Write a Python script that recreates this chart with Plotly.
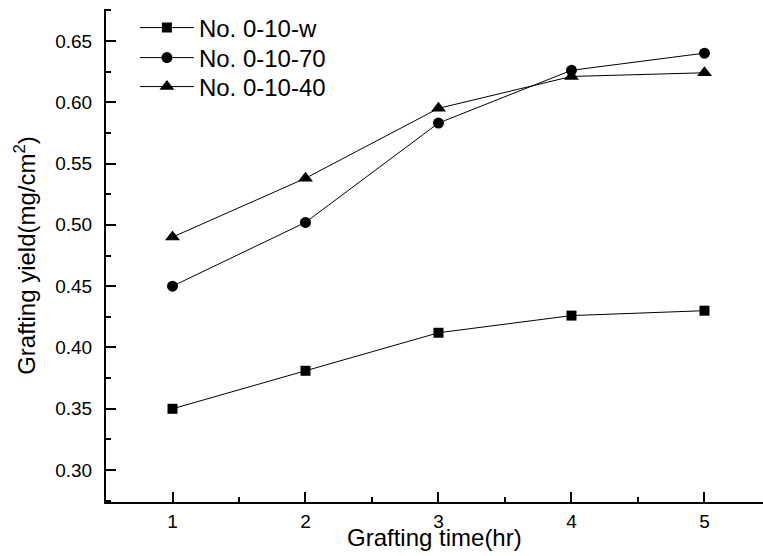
import plotly.graph_objects as go

time_hr = [1, 2, 3, 4, 5]
yield_w = [0.350, 0.381, 0.412, 0.426, 0.430]
yield_70 = [0.450, 0.502, 0.583, 0.626, 0.640]
yield_40 = [0.490, 0.538, 0.595, 0.621, 0.624]
names = ["No. 0-10-w", "No. 0-10-70", "No. 0-10-40"]
symbols = ["square", "circle", "triangle-up"]
sizes = [10, 11, 13]
legend_ids = ["legend", "legend2", "legend3"]
legend_y = [0.9615, 0.9006, 0.8418]

fig = go.Figure()
for ys, nm, sym, sz, lg in zip([yield_w, yield_70, yield_40], names, symbols, sizes, legend_ids):
    fig.add_trace(go.Scatter(
        x=time_hr, y=ys, name=nm, mode="lines+markers", legend=lg,
        line=dict(color="black", width=1),
        marker=dict(symbol=sym, size=sz, color="black"),
    ))

axis_common = dict(
    showline=True, linecolor="black", linewidth=2, mirror=False,
    ticks="inside", ticklen=10, tickwidth=2, tickcolor="black",
    showgrid=False, zeroline=False, automargin=False,
    tickfont=dict(family="Liberation Sans, Arial", size=19, color="black"),
)

legend_layout = {}
for lg, ly in zip(legend_ids, legend_y):
    legend_layout[lg] = dict(
        x=0.044, y=ly, xanchor="left", yanchor="middle",
        bgcolor="rgba(0,0,0,0)", font=dict(size=24),
        itemwidth=54,
    )

fig.update_layout(
    width=763, height=556,
    margin=dict(l=106, r=0, t=9, b=54),
    plot_bgcolor="white", paper_bgcolor="white",
    font=dict(family="Liberation Sans, Arial", color="black"),
    xaxis=dict(
        range=[0.5, 5.44], tickvals=[1, 2, 3, 4, 5],
        minor=dict(ticks="inside", ticklen=5, tickwidth=2, tickcolor="black", dtick=0.5, tick0=0.5),
        ticklabelstandoff=1,
        **axis_common,
    ),
    yaxis=dict(
        range=[0.274, 0.676], tickvals=[0.30, 0.35, 0.40, 0.45, 0.50, 0.55, 0.60, 0.65],
        tickformat=".2f",
        minor=dict(ticks="inside", ticklen=5, tickwidth=2, tickcolor="black", dtick=0.025, tick0=0.275),
        title=dict(text="Grafting yield(mg/cm<sup>2</sup>)", font=dict(size=24), standoff=13),
        ticklabelstandoff=8,
        **axis_common,
    ),
    annotations=[dict(
        text="Grafting time(hr)", xref="paper", yref="paper",
        x=0.5, y=-0.073, xanchor="center", yanchor="middle",
        showarrow=False, font=dict(size=24, color="black"),
    )],
    showlegend=True,
    **legend_layout,
)

fig.write_html("out.html", config={"displayModeBar": False},
               post_script="document.body.style.margin='0px';")
